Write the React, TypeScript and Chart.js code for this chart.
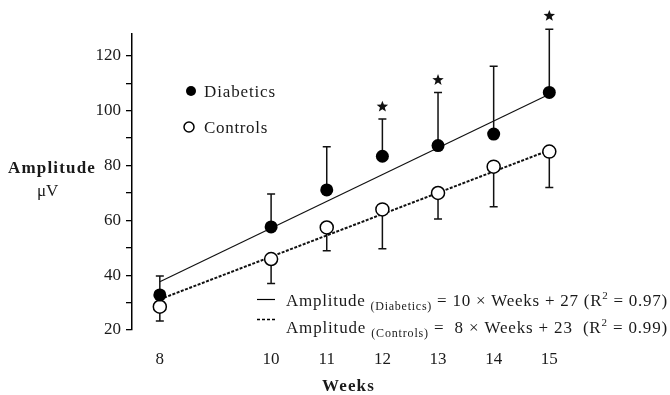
import React, { useEffect, useRef } from 'react';
import { Chart, registerables } from 'chart.js';
Chart.register(...registerables);

// ---- data ----
const weeks = [8, 10, 11, 12, 13, 14, 15];
const diabeticsMean = [32.8, 57.6, 71.1, 83.4, 87.3, 91.5, 106.7];
const diabeticsUpper = [39.7, 69.6, 86.9, 97.0, 106.7, 116.2, 129.7];
const controlsMean = [28.5, 45.9, 57.4, 64.0, 70.0, 79.6, 85.1];
const controlsLower = [23.3, 37.0, 48.9, 49.6, 60.5, 65.0, 72.0];
const fitWeeks = [8, 15];
const diabeticsFit = [37.6, 106.0];
const controlsFit = [31.2, 85.6];
const starWeeks = [12, 13, 15];
const starValues = [101.5, 111.2, 134.6];
const xTickValues = [8, 10, 11, 12, 13, 14, 15];
const yTickStep = 10;
const yLabelStep = 20;

const SERIF = "'Liberation Serif', 'Times New Roman', serif";
const INK = '#1a1a1a';

type Seg = { t: string; size: number; dy?: number; bold?: boolean };

function drawRich(ctx: CanvasRenderingContext2D, segs: Seg[], x: number, y: number, target: number) {
  ctx.save();
  ctx.textBaseline = 'alphabetic';
  ctx.textAlign = 'left';
  (ctx as any).letterSpacing = '0px';
  let natural = 0;
  let chars = 0;
  const widths: number[] = [];
  for (const s of segs) {
    ctx.font = `${s.bold ? 'bold ' : ''}${s.size}px ${SERIF}`;
    const w = ctx.measureText(s.t).width;
    widths.push(w);
    natural += w;
    chars += s.t.length;
  }
  const sp = (target - natural) / chars;
  (ctx as any).letterSpacing = `${sp}px`;
  let cx = x;
  segs.forEach((s, i) => {
    ctx.font = `${s.bold ? 'bold ' : ''}${s.size}px ${SERIF}`;
    ctx.fillText(s.t, cx, y + (s.dy || 0));
    cx += widths[i] + sp * s.t.length;
  });
  ctx.restore();
}

function drawStar(ctx: CanvasRenderingContext2D, cx: number, cy: number, r: number) {
  ctx.beginPath();
  for (let i = 0; i < 10; i++) {
    const rr = i % 2 === 0 ? r : r * 0.42;
    const a = -Math.PI / 2 + (i * Math.PI) / 5;
    const px = cx + rr * Math.cos(a);
    const py = cy + rr * Math.sin(a);
    if (i === 0) ctx.moveTo(px, py);
    else ctx.lineTo(px, py);
  }
  ctx.closePath();
  ctx.fill();
}

const overlay = {
  id: 'overlay',
  beforeDatasetsDraw(chart: any) {
    const ctx: CanvasRenderingContext2D = chart.ctx;
    const xs = chart.scales.x;
    const ys = chart.scales.y;
    ctx.save();
    ctx.strokeStyle = '#111';
    ctx.lineWidth = 1.5;
    const cap = 4;
    weeks.forEach((w, i) => {
      const x = xs.getPixelForValue(w);
      const y0 = ys.getPixelForValue(diabeticsMean[i]);
      const y1 = ys.getPixelForValue(diabeticsUpper[i]);
      ctx.beginPath();
      ctx.moveTo(x, y0);
      ctx.lineTo(x, y1);
      ctx.moveTo(x - cap, y1);
      ctx.lineTo(x + cap, y1);
      ctx.stroke();
      const c0 = ys.getPixelForValue(controlsMean[i]);
      const c1 = ys.getPixelForValue(controlsLower[i]);
      ctx.beginPath();
      ctx.moveTo(x, c0);
      ctx.lineTo(x, c1);
      ctx.moveTo(x - cap, c1);
      ctx.lineTo(x + cap, c1);
      ctx.stroke();
    });
    ctx.restore();
  },
  afterDatasetsDraw(chart: any) {
    const ctx: CanvasRenderingContext2D = chart.ctx;
    const xs = chart.scales.x;
    const ys = chart.scales.y;
    ctx.save();
    ctx.fillStyle = '#111';
    starWeeks.forEach((w, i) => {
      drawStar(ctx, xs.getPixelForValue(w), ys.getPixelForValue(starValues[i]), 6);
    });
    ctx.restore();
  },
  afterDraw(chart: any) {
    const ctx: CanvasRenderingContext2D = chart.ctx;
    ctx.save();
    ctx.fillStyle = INK;
    // legend
    ctx.beginPath();
    ctx.arc(191, 91, 5, 0, Math.PI * 2);
    ctx.fillStyle = '#000';
    ctx.fill();
    ctx.beginPath();
    ctx.arc(189, 127, 5, 0, Math.PI * 2);
    ctx.fillStyle = '#fff';
    ctx.fill();
    ctx.strokeStyle = '#000';
    ctx.lineWidth = 1.5;
    ctx.stroke();
    ctx.fillStyle = INK;
    drawRich(ctx, [{ t: 'Diabetics', size: 17 }], 204, 97, 72);
    drawRich(ctx, [{ t: 'Controls', size: 17 }], 204, 133, 64);

    // equation legend
    ctx.strokeStyle = '#000';
    ctx.lineWidth = 1.2;
    ctx.beginPath();
    ctx.moveTo(257, 299.5);
    ctx.lineTo(275, 299.5);
    ctx.stroke();
    ctx.setLineDash([3, 2]);
    ctx.lineWidth = 1.5;
    ctx.beginPath();
    ctx.moveTo(257, 319.5);
    ctx.lineTo(275, 319.5);
    ctx.stroke();
    ctx.setLineDash([]);
    drawRich(
      ctx,
      [
        { t: 'Amplitude ', size: 17 },
        { t: '(Diabetics)', size: 12, dy: 4 },
        { t: ' = 10 \u00d7 Weeks + 27 (R', size: 17 },
        { t: '2', size: 11, dy: -7 },
        { t: ' = 0.97)', size: 17 },
      ],
      286,
      306,
      382
    );
    drawRich(
      ctx,
      [
        { t: 'Amplitude ', size: 17 },
        { t: '(Controls)', size: 12, dy: 4 },
        { t: ' =  8 \u00d7 Weeks + 23  (R', size: 17 },
        { t: '2', size: 11, dy: -7 },
        { t: ' = 0.99)', size: 17 },
      ],
      286,
      333,
      382
    );

    // axis titles
    drawRich(ctx, [{ t: 'Amplitude', size: 17, bold: true }], 8, 173, 88);
    drawRich(ctx, [{ t: '\u03bcV', size: 17 }], 37, 196, 21);
    drawRich(ctx, [{ t: 'Weeks', size: 17, bold: true }], 322, 391, 53);
    ctx.restore();
  },
};

export default function App() {
  const ref = useRef<HTMLCanvasElement | null>(null);
  useEffect(() => {
    if (!ref.current) return;
    const chart = new Chart(ref.current, {
      type: 'scatter',
      data: {
        datasets: [
          {
            label: 'Diabetics',
            data: weeks.map((w, i) => ({ x: w, y: diabeticsMean[i] })),
            pointRadius: 6.5,
            pointBackgroundColor: '#000',
            pointBorderColor: '#000',
            pointBorderWidth: 0,
            showLine: false,
            clip: false,
          } as any,
          {
            label: 'Controls',
            data: weeks.map((w, i) => ({ x: w, y: controlsMean[i] })),
            pointRadius: 6.5,
            pointBackgroundColor: '#fff',
            pointBorderColor: '#000',
            pointBorderWidth: 1.5,
            showLine: false,
            clip: false,
          } as any,
          {
            label: 'Diabetics fit',
            data: fitWeeks.map((w, i) => ({ x: w, y: diabeticsFit[i] })),
            showLine: true,
            borderColor: '#111',
            borderWidth: 1.2,
            pointRadius: 0,
            clip: false,
          } as any,
          {
            label: 'Controls fit',
            data: fitWeeks.map((w, i) => ({ x: w, y: controlsFit[i] })),
            showLine: true,
            borderColor: '#111',
            borderWidth: 2,
            borderDash: [3, 1.5],
            pointRadius: 0,
            clip: false,
          } as any,
        ],
      },
      options: {
        animation: false,
        responsive: false,
        layout: { padding: { left: 0, right: 104, top: 34, bottom: 0 } },
        plugins: { legend: { display: false }, tooltip: { enabled: false }, title: { display: false } },
        scales: {
          x: {
            type: 'linear',
            min: 7.5,
            max: 15.3,
            afterBuildTicks: (s: any) => {
              s.ticks = xTickValues.map((v) => ({ value: v }));
            },
            afterFit: (s: any) => {
              s.height = 65;
            },
            grid: { display: false, drawTicks: false },
            border: { display: false },
            ticks: {
              autoSkip: false,
              maxRotation: 0,
              padding: 19,
              color: INK,
              font: { family: SERIF, size: 17 },
            },
          },
          y: {
            type: 'linear',
            min: 20,
            max: 128,
            afterBuildTicks: (s: any) => {
              s.ticks = s.ticks.filter((t: any) => Math.abs(t.value % yTickStep) < 1e-6);
            },
            afterFit: (s: any) => {
              s.width = 132;
            },
            grid: { display: true, drawOnChartArea: false, drawTicks: true, tickLength: 6, color: '#000', lineWidth: 1.3 },
            border: { display: true, color: '#000', width: 1.5 },
            ticks: {
              stepSize: yTickStep,
              padding: 5,
              color: INK,
              font: { family: SERIF, size: 17 },
              callback: (v: any) => (Math.abs(Number(v) % yLabelStep) < 1e-6 ? String(v) : ''),
            },
          },
        },
      },
      plugins: [overlay],
    } as any);
    return () => chart.destroy();
  }, []);
  return (
    <div style={{ position: 'fixed', left: 0, top: 0, width: 670, height: 395, background: '#fff' }}>
      <canvas ref={ref} width={670} height={395} style={{ display: 'block', width: 670, height: 395 }} />
    </div>
  );
}
